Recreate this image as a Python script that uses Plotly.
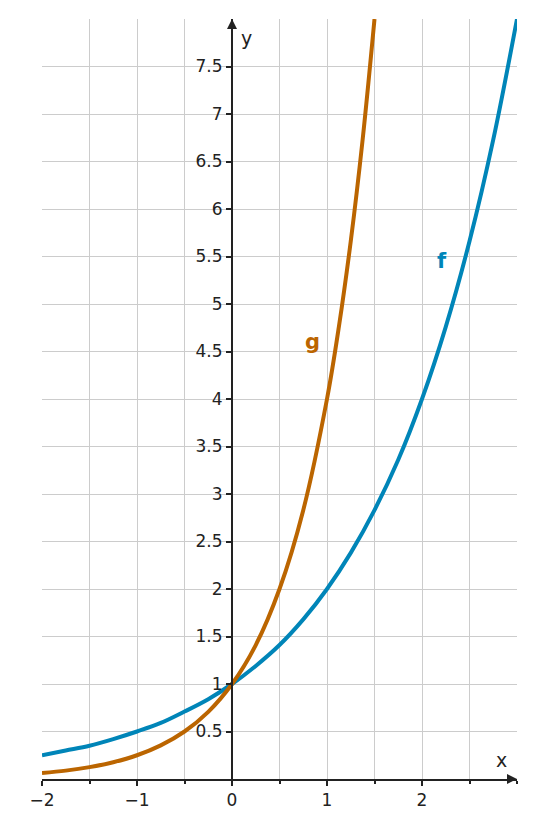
import plotly.graph_objects as go

# values
f_x = [-2, -1.75, -1.5, -1.25, -1, -0.75, -0.5, -0.25, 0, 0.25, 0.5, 0.75, 1, 1.25, 1.5, 1.75, 2, 2.25, 2.5, 2.75, 3]
f_y = [0.25, 0.30, 0.35, 0.42, 0.5, 0.59, 0.71, 0.84, 1, 1.19, 1.41, 1.68, 2, 2.38, 2.83, 3.36, 4, 4.76, 5.66, 6.73, 8]
g_x = [-2, -1.75, -1.5, -1.25, -1, -0.75, -0.5, -0.25, 0, 0.25, 0.5, 0.75, 1, 1.125, 1.25, 1.375, 1.5]
g_y = [0.0625, 0.088, 0.125, 0.177, 0.25, 0.354, 0.5, 0.707, 1, 1.41, 2, 2.83, 4, 4.76, 5.66, 6.73, 8]

x_ticks = [-2, -1, 0, 1, 2]
x_labels = ["−2", "−1", "0", "1", "2"]
y_ticks = [0.5, 1, 1.5, 2, 2.5, 3, 3.5, 4, 4.5, 5, 5.5, 6, 6.5, 7, 7.5]
y_labels = ["0.5", "1", "1.5", "2", "2.5", "3", "3.5", "4", "4.5", "5", "5.5", "6", "6.5", "7", "7.5"]

blue = "#0085b8"
orange = "#bb6500"
font = dict(family="DejaVu Sans", size=17, color="#222222")

fig = go.Figure()
fig.add_trace(go.Scatter(x=f_x, y=f_y, mode="lines", line=dict(color=blue, width=4, shape="spline")))
fig.add_trace(go.Scatter(x=g_x, y=g_y, mode="lines", line=dict(color=orange, width=4, shape="spline")))

fig.update_layout(
    width=535, height=827, showlegend=False,
    margin=dict(l=34, r=26, t=11, b=56),
    plot_bgcolor="white", paper_bgcolor="white", font=font,
    xaxis=dict(range=[-2, 3], tickvals=x_ticks, ticktext=x_labels, showgrid=True,
               gridcolor="#cccccc", gridwidth=1.2, zeroline=False, showline=True,
               linecolor="#222222", linewidth=2, ticks="outside", ticklen=5,
               tickcolor="#222222", tickwidth=1.5,
               minor=dict(dtick=0.5, showgrid=True, gridcolor="#cccccc", gridwidth=1.2,
                          ticks="outside", ticklen=3, tickcolor="#222222")),
    yaxis=dict(range=[0, 8], tickvals=y_ticks, ticktext=y_labels, showgrid=True,
               gridcolor="#cccccc", gridwidth=1.2, zeroline=False,
               anchor="free", position=0.4, showline=True, linecolor="#222222",
               linewidth=2, ticks="outside", ticklen=5, tickcolor="#222222",
               tickwidth=1.5),
)

# axis arrows
fig.add_annotation(x=3, y=0, ax=2.9, ay=0, xref="x", yref="y", axref="x", ayref="y",
                   showarrow=True, arrowhead=2, arrowsize=1, arrowwidth=2, arrowcolor="#222222", text="")
fig.add_annotation(x=0, y=8, ax=0, ay=7.9, xref="x", yref="y", axref="x", ayref="y",
                   showarrow=True, arrowhead=2, arrowsize=1, arrowwidth=2, arrowcolor="#222222", text="")
fig.add_annotation(x=2.84, y=0.2, text="x", showarrow=False, font=dict(family="DejaVu Sans", size=19, color="#222222"))
fig.add_annotation(x=0.15, y=7.8, text="y", showarrow=False, font=dict(family="DejaVu Sans", size=19, color="#222222"))
fig.add_annotation(x=0.85, y=4.6, text="<b>g</b>", showarrow=False, font=dict(family="DejaVu Sans", size=21, color=orange))
fig.add_annotation(x=2.21, y=5.45, text="<b>f</b>", showarrow=False, font=dict(family="DejaVu Sans", size=21, color=blue))

fig.write_html("out.html")
